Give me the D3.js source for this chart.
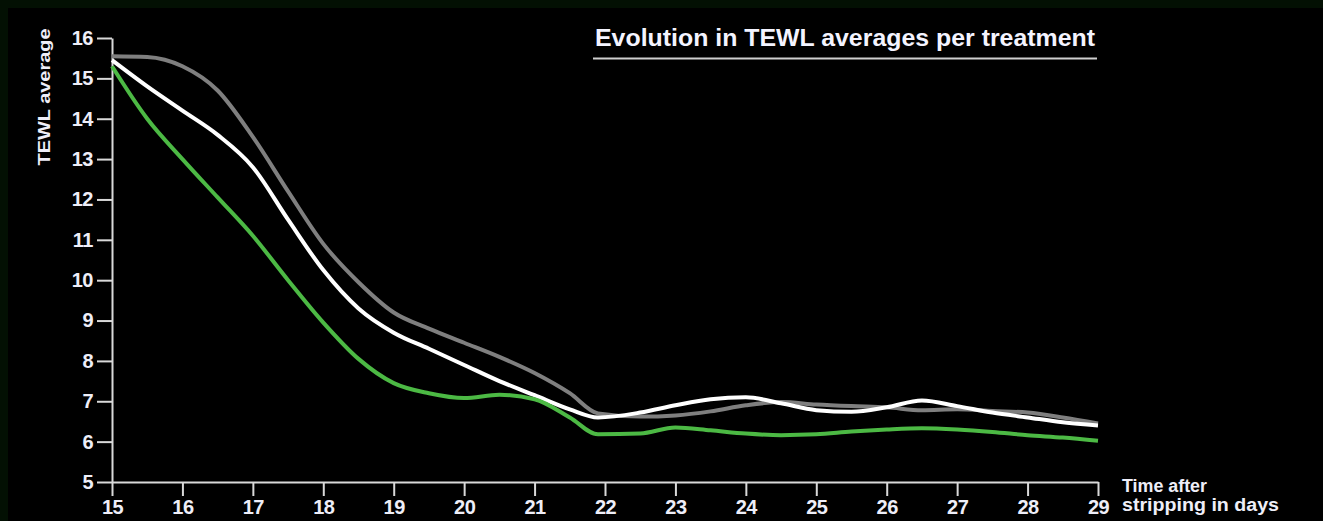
<!DOCTYPE html>
<html>
<head>
<meta charset="utf-8">
<script src="https://cdn.jsdelivr.net/npm/d3@7"></script>
<style>
  html, body { margin: 0; padding: 0; background: #000; }
  svg { display: block; font-family: "Liberation Sans", Arial, Helvetica, sans-serif; }
</style>
</head>
<body>
<svg id="chart"></svg>
<script>
// days after stripping (shared x values)
const days = [15, 15.5, 16, 16.5, 17, 17.5, 18, 18.5, 19, 19.5, 20, 20.5, 21, 21.5, 21.9,
              22.5, 23, 23.5, 24, 24.5, 25, 25.5, 26, 26.5, 27, 27.5, 28, 28.5, 29];

const grayVals = [15.55, 15.53, 15.3, 14.7, 13.55, 12.2, 10.9, 9.95, 9.2, 8.8, 8.45, 8.1, 7.7, 7.2, 6.7,
                  6.62, 6.65, 6.75, 6.9, 6.98, 6.92, 6.88, 6.85, 6.78, 6.8, 6.76, 6.72, 6.6, 6.45];

const whiteVals = [15.45, 14.8, 14.2, 13.6, 12.8, 11.5, 10.25, 9.3, 8.7, 8.3, 7.9, 7.5, 7.15, 6.8, 6.6,
                   6.72, 6.9, 7.05, 7.1, 6.95, 6.78, 6.74, 6.85, 7.02, 6.88, 6.72, 6.6, 6.48, 6.4];

const greenVals = [15.3, 14.0, 13.0, 12.05, 11.1, 10.0, 8.95, 8.05, 7.45, 7.2, 7.08, 7.16, 7.05, 6.6, 6.18,
                   6.2, 6.35, 6.28, 6.2, 6.16, 6.18, 6.25, 6.3, 6.33, 6.3, 6.24, 6.16, 6.1, 6.02];

const xTicks = d3.range(15, 30);
const yTicks = d3.range(5, 17);

const W = 1323, H = 521;

const svg = d3.select("#chart").attr("width", W).attr("height", H);

// dark frame + black panel
svg.append("rect").attr("width", W).attr("height", H).attr("fill", "#031003");
svg.append("rect").attr("x", 8).attr("y", 8).attr("width", W - 8).attr("height", H - 8).attr("fill", "#000");

const x = d3.scaleLinear().domain([15, 29]).range([112, 1098]);
const y = d3.scaleLinear().domain([5, 16]).range([482, 38]);

const axisColor = "#d9d9d9";
const labelColor = "#eeeef8";

const yAxis = svg.append("g")
  .attr("transform", `translate(${x(15)},0)`)
  .call(d3.axisLeft(y).tickValues(yTicks).tickSize(15).tickSizeOuter(0).tickPadding(4).tickFormat(d3.format("d")));

const xAxis = svg.append("g")
  .attr("transform", `translate(0,${y(5)})`)
  .call(d3.axisBottom(x).tickValues(xTicks).tickSize(14).tickSizeOuter(0).tickPadding(2).tickFormat(d3.format("d")));

[yAxis, xAxis].forEach(g => {
  g.select(".domain").attr("stroke", axisColor).attr("stroke-width", 2);
  g.selectAll(".tick line").attr("stroke", axisColor).attr("stroke-width", 2);
  g.selectAll(".tick text")
    .attr("fill", labelColor)
    .style("font-size", "20px")
    .style("font-weight", "bold")
    .style("letter-spacing", "-0.5px");
});

// push x labels down a little
xAxis.selectAll(".tick text").attr("dy", "0.78em");

// lines
const line = d3.line()
  .x((d, i) => x(days[i]))
  .y(d => y(d))
  .curve(d3.curveMonotoneX);

svg.append("path")
  .datum(grayVals)
  .attr("fill", "none")
  .attr("stroke", "#7f7f7f")
  .attr("stroke-width", 4)
  .attr("d", line);

svg.append("path")
  .datum(whiteVals)
  .attr("fill", "none")
  .attr("stroke", "#ffffff")
  .attr("stroke-width", 4)
  .attr("d", line);

svg.append("path")
  .datum(greenVals)
  .attr("fill", "none")
  .attr("stroke", "#4cb944")
  .attr("stroke-width", 4)
  .attr("d", line);

// y axis title
svg.append("text")
  .attr("text-anchor", "middle")
  .attr("transform", `translate(50, 97) rotate(-90)`)
  .attr("fill", labelColor)
  .style("font-size", "17px")
  .style("font-weight", "bold")
  .attr("textLength", 137)
  .attr("lengthAdjust", "spacingAndGlyphs")
  .text("TEWL average");

// x axis title
svg.append("text")
  .attr("x", 1122)
  .attr("y", 492)
  .attr("fill", labelColor)
  .style("font-size", "18px")
  .style("font-weight", "bold")
  .attr("textLength", 85)
  .attr("lengthAdjust", "spacingAndGlyphs")
  .text("Time after");

svg.append("text")
  .attr("x", 1122)
  .attr("y", 511)
  .attr("fill", labelColor)
  .style("font-size", "18px")
  .style("font-weight", "bold")
  .attr("textLength", 157)
  .attr("lengthAdjust", "spacingAndGlyphs")
  .text("stripping in days");

// chart title + underline
svg.append("text")
  .attr("x", 595)
  .attr("y", 46)
  .attr("fill", "#f4f4ff")
  .style("font-size", "24px")
  .style("font-weight", "bold")
  .attr("textLength", 500)
  .attr("lengthAdjust", "spacingAndGlyphs")
  .text("Evolution in TEWL averages per treatment");

svg.append("line")
  .attr("x1", 593).attr("x2", 1097)
  .attr("y1", 58.5).attr("y2", 58.5)
  .attr("stroke", "#cfcfcf")
  .attr("stroke-width", 2);
</script>
</body>
</html>
